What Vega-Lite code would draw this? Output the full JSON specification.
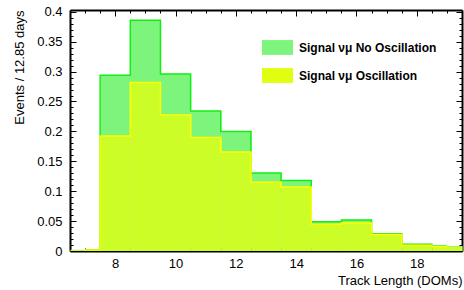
{
  "$schema": "https://vega.github.io/schema/vega-lite/v6.json",
  "width": 392,
  "height": 241,
  "autosize": {"type": "none"},
  "padding": {"left": 70, "top": 10, "right": 2, "bottom": 39},
  "background": "white",
  "config": {
    "view": {"stroke": null},
    "font": "Liberation Sans",
    "axis": {
      "labelFont": "Liberation Sans",
      "titleFont": "Liberation Sans",
      "labelFontSize": 13,
      "titleFontSize": 13,
      "titleFontWeight": "normal",
      "labelColor": "black",
      "titleColor": "black",
      "tickColor": "black",
      "domainColor": "black",
      "domainWidth": 2,
      "tickWidth": 1,
      "grid": false,
      "zindex": 1
    }
  },
  "data": {
    "values": [
      {"series": "Signal νμ No Oscillation", "len": 7, "lo": 6.5, "hi": 7.5, "events": 0.002},
      {"series": "Signal νμ No Oscillation", "len": 8, "lo": 7.5, "hi": 8.5, "events": 0.294},
      {"series": "Signal νμ No Oscillation", "len": 9, "lo": 8.5, "hi": 9.5, "events": 0.386},
      {"series": "Signal νμ No Oscillation", "len": 10, "lo": 9.5, "hi": 10.5, "events": 0.296},
      {"series": "Signal νμ No Oscillation", "len": 11, "lo": 10.5, "hi": 11.5, "events": 0.234},
      {"series": "Signal νμ No Oscillation", "len": 12, "lo": 11.5, "hi": 12.5, "events": 0.2},
      {"series": "Signal νμ No Oscillation", "len": 13, "lo": 12.5, "hi": 13.5, "events": 0.1305},
      {"series": "Signal νμ No Oscillation", "len": 14, "lo": 13.5, "hi": 14.5, "events": 0.118},
      {"series": "Signal νμ No Oscillation", "len": 15, "lo": 14.5, "hi": 15.5, "events": 0.049},
      {"series": "Signal νμ No Oscillation", "len": 16, "lo": 15.5, "hi": 16.5, "events": 0.052},
      {"series": "Signal νμ No Oscillation", "len": 17, "lo": 16.5, "hi": 17.5, "events": 0.029},
      {"series": "Signal νμ No Oscillation", "len": 18, "lo": 17.5, "hi": 18.5, "events": 0.0112},
      {"series": "Signal νμ No Oscillation", "len": 19, "lo": 18.5, "hi": 19.5, "events": 0.0084},
      {"series": "Signal νμ Oscillation", "len": 7, "lo": 6.5, "hi": 7.5, "events": 0.0015},
      {"series": "Signal νμ Oscillation", "len": 8, "lo": 7.5, "hi": 8.5, "events": 0.1925},
      {"series": "Signal νμ Oscillation", "len": 9, "lo": 8.5, "hi": 9.5, "events": 0.2817},
      {"series": "Signal νμ Oscillation", "len": 10, "lo": 9.5, "hi": 10.5, "events": 0.2276},
      {"series": "Signal νμ Oscillation", "len": 11, "lo": 10.5, "hi": 11.5, "events": 0.1897},
      {"series": "Signal νμ Oscillation", "len": 12, "lo": 11.5, "hi": 12.5, "events": 0.1657},
      {"series": "Signal νμ Oscillation", "len": 13, "lo": 12.5, "hi": 13.5, "events": 0.115},
      {"series": "Signal νμ Oscillation", "len": 14, "lo": 13.5, "hi": 14.5, "events": 0.107},
      {"series": "Signal νμ Oscillation", "len": 15, "lo": 14.5, "hi": 15.5, "events": 0.0447},
      {"series": "Signal νμ Oscillation", "len": 16, "lo": 15.5, "hi": 16.5, "events": 0.047},
      {"series": "Signal νμ Oscillation", "len": 17, "lo": 16.5, "hi": 17.5, "events": 0.0276},
      {"series": "Signal νμ Oscillation", "len": 18, "lo": 17.5, "hi": 18.5, "events": 0.0098},
      {"series": "Signal νμ Oscillation", "len": 19, "lo": 18.5, "hi": 19.5, "events": 0.0075}
    ]
  },
  "resolve": {"axis": {"x": "independent", "y": "independent"}},
  "layer": [
    {
      "transform": [{"filter": "datum.series === 'Signal νμ No Oscillation'"}],
      "mark": {"type": "bar", "fillOpacity": 1, "orient": "vertical", "binSpacing": 0},
      "encoding": {
        "x": {
          "field": "lo", "type": "quantitative", "bin": "binned",
          "scale": {"domain": [6.5, 19.5], "nice": false, "zero": false},
          "axis": {"orient": "bottom", "values": [8, 10, 12, 14, 16, 18], "tickSize": -6, "labelPadding": 12,
                   "title": "Track Length (DOMs)", "titleAnchor": "end", "titlePadding": 4}
        },
        "x2": {"field": "hi"},
        "y": {
          "field": "events", "type": "quantitative", "stack": null,
          "scale": {"domain": [0, 0.403], "nice": false, "zero": true},
          "axis": {"orient": "left", "values": [0, 0.05, 0.1, 0.15, 0.2, 0.25, 0.3, 0.35, 0.4], "format": "~g",
                   "tickSize": -6, "labelPadding": 14, "title": "Events /  12.85 days", "titleAnchor": "end", "titlePadding": 10}
        },
        "color": {
          "field": "series", "type": "nominal",
          "scale": {"domain": ["Signal νμ No Oscillation", "Signal νμ Oscillation"], "range": ["#7df57d", "#e0ff10"]},
          "legend": {
            "orient": "none", "legendX": 192, "legendY": 22, "title": null,
            "symbolType": "M-1,-0.48H1V0.48H-1Z", "symbolSize": 961, "symbolStrokeWidth": 0,
            "labelFont": "Liberation Sans", "labelFontWeight": "bold", "labelFontSize": 12, "labelColor": "black",
            "labelOffset": 6, "rowPadding": 5, "padding": 0
          }
        }
      }
    },
    {
      "transform": [{"filter": "datum.series === 'Signal νμ No Oscillation'"}],
      "mark": {"type": "line", "interpolate": "step", "color": "#11ee11", "strokeWidth": 1.5},
      "encoding": {
        "x": {"field": "len", "type": "quantitative",
              "axis": {"orient": "top", "values": [8, 10, 12, 14, 16, 18], "tickSize": -6, "labels": false, "title": null}},
        "y": {"field": "events", "type": "quantitative",
              "axis": {"orient": "right", "values": [0, 0.05, 0.1, 0.15, 0.2, 0.25, 0.3, 0.35, 0.4], "tickSize": -6, "labels": false, "title": null}}
      }
    },
    {
      "transform": [{"filter": "datum.series === 'Signal νμ Oscillation'"}],
      "mark": {"type": "bar", "fillOpacity": 0.8, "orient": "vertical", "binSpacing": 0},
      "encoding": {
        "x": {"field": "lo", "type": "quantitative", "bin": "binned",
              "axis": {"orient": "bottom", "values": [6.5, 7, 7.5, 8.5, 9, 9.5, 10.5, 11, 11.5, 12.5, 13, 13.5, 14.5, 15, 15.5, 16.5, 17, 17.5, 18.5, 19, 19.5], "tickSize": -3, "labels": false, "domain": false, "title": null}},
        "x2": {"field": "hi"},
        "y": {"field": "events", "type": "quantitative", "stack": null,
              "axis": {"orient": "left", "values": [0.01, 0.02, 0.03, 0.04, 0.06, 0.07, 0.08, 0.09, 0.11, 0.12, 0.13, 0.14, 0.16, 0.17, 0.18, 0.19, 0.21, 0.22, 0.23, 0.24, 0.26, 0.27, 0.28, 0.29, 0.31, 0.32, 0.33, 0.34, 0.36, 0.37, 0.38, 0.39], "tickSize": -3, "labels": false, "domain": false, "title": null}},
        "color": {"field": "series", "type": "nominal"}
      }
    },
    {
      "transform": [{"filter": "datum.series === 'Signal νμ Oscillation'"}],
      "mark": {"type": "line", "interpolate": "step", "color": "#ffff00", "strokeWidth": 1.5},
      "encoding": {
        "x": {"field": "len", "type": "quantitative",
              "axis": {"orient": "top", "values": [6.5, 7, 7.5, 8.5, 9, 9.5, 10.5, 11, 11.5, 12.5, 13, 13.5, 14.5, 15, 15.5, 16.5, 17, 17.5, 18.5, 19, 19.5], "tickSize": -3, "labels": false, "domain": false, "title": null}},
        "y": {"field": "events", "type": "quantitative",
              "axis": {"orient": "right", "values": [0.01, 0.02, 0.03, 0.04, 0.06, 0.07, 0.08, 0.09, 0.11, 0.12, 0.13, 0.14, 0.16, 0.17, 0.18, 0.19, 0.21, 0.22, 0.23, 0.24, 0.26, 0.27, 0.28, 0.29, 0.31, 0.32, 0.33, 0.34, 0.36, 0.37, 0.38, 0.39], "tickSize": -3, "labels": false, "domain": false, "title": null}}
      }
    }
  ]
}
